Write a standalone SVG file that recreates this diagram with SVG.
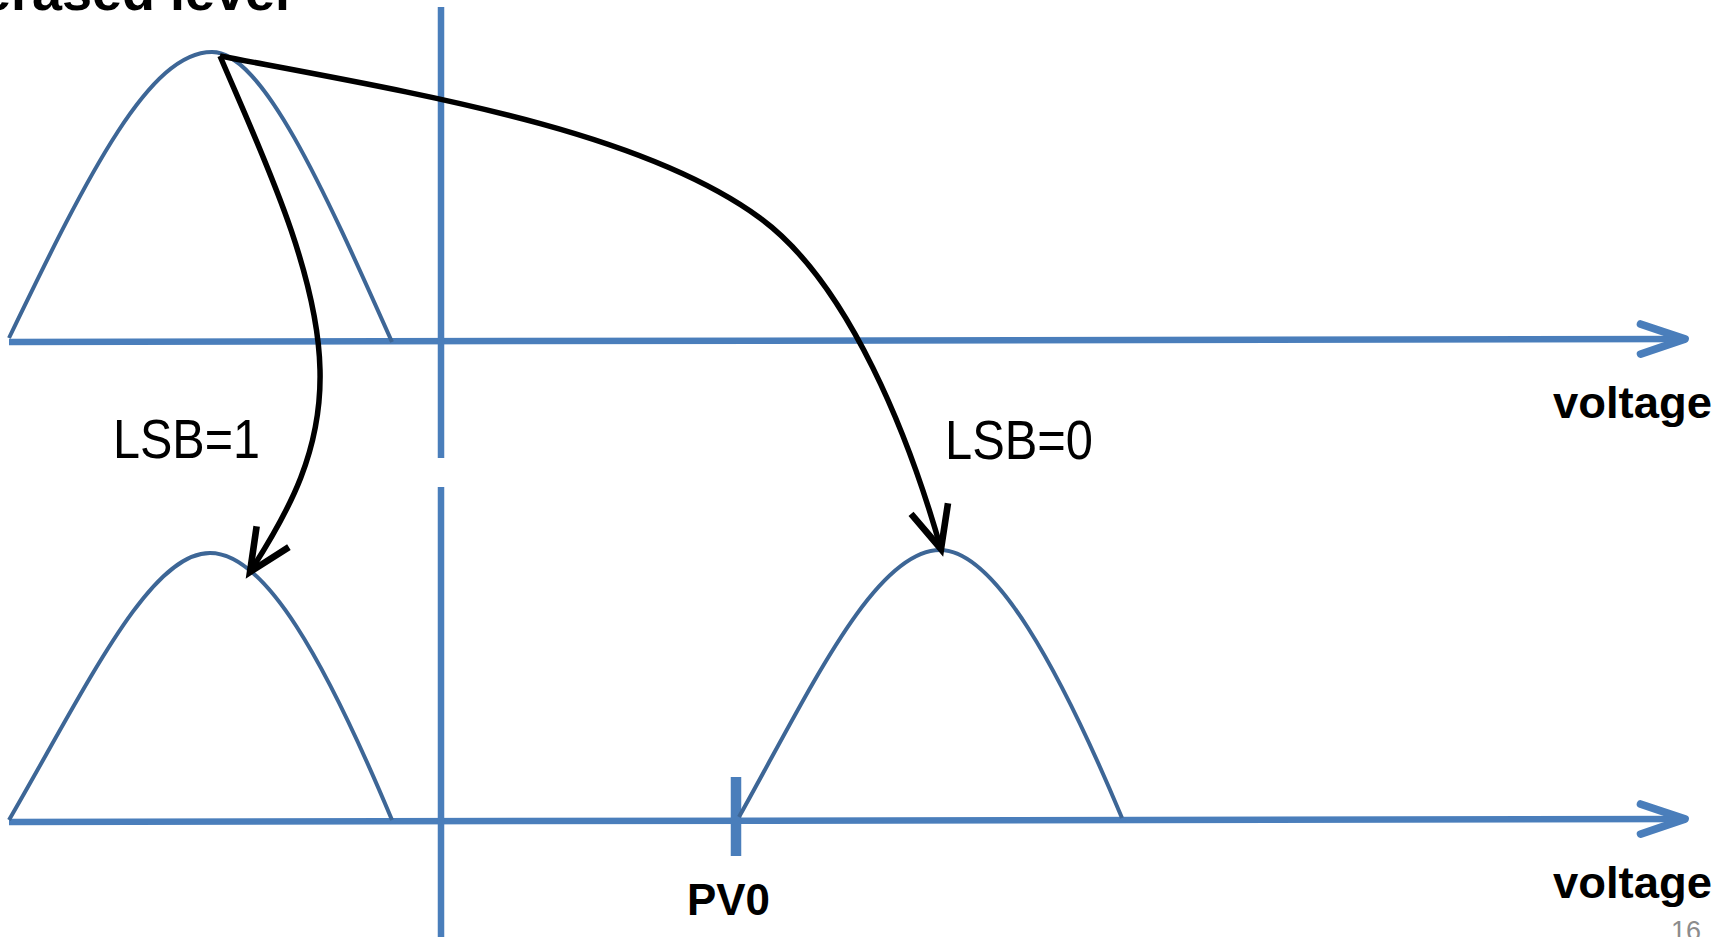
<svg xmlns="http://www.w3.org/2000/svg" width="1734" height="937" viewBox="0 0 1734 937">
<style>
.axis{fill:none;stroke:#4a7ebb;stroke-width:6.5}
.curve{fill:none;stroke:#3d6696;stroke-width:4}
.conn{fill:none;stroke:#000;stroke-width:5.5}
.lbl{font-family:"Liberation Sans",Arial,sans-serif;fill:#000}
.b{font-weight:bold}
</style>
<defs>
<marker id="axHead" markerUnits="userSpaceOnUse" markerWidth="60" markerHeight="60" viewBox="-45 -20 50 40" refX="0" refY="0" orient="auto" overflow="visible">
<path d="M-37,-12.5 L0,0 L-37,12.5" fill="none" stroke="#4a7ebb" stroke-width="6.5" stroke-linecap="round" stroke-linejoin="round"/>
</marker>
<marker id="blkHead" markerUnits="userSpaceOnUse" markerWidth="60" markerHeight="60" viewBox="-45 -20 50 40" refX="0" refY="0" orient="auto" overflow="visible">
<path d="M-35,-16 L0,0 L-35,16" fill="none" stroke="#000" stroke-width="5.5" stroke-linecap="butt" stroke-linejoin="miter"/>
</marker>
</defs>
<rect width="1734" height="937" fill="#fff"/>
<g id="axes">
<line class="axis" x1="9" y1="342" x2="1685" y2="339" marker-end="url(#axHead)"/>
<line class="axis" x1="9" y1="822" x2="1685" y2="819" marker-end="url(#axHead)"/>
<line class="axis" x1="441" y1="7" x2="441" y2="458"/>
<line class="axis" x1="441" y1="487" x2="441" y2="937"/>
<line x1="736" y1="777" x2="736" y2="856" stroke="#4a7ebb" stroke-width="10.5"/>
</g>
<g id="erased">
<path class="curve" d="M9,338 C90,170 150,52 212,52 C262,52 322,185 392,342"/>
<text class="lbl b" x="-19" y="10" font-size="54" textLength="309" lengthAdjust="spacingAndGlyphs">erased level</text>
</g>
<g id="lsb1">
<path class="curve" d="M9,820 C90,680 150,553 210,553 C265,553 325,660 392,820"/>
<text class="lbl" x="113" y="458" font-size="55" textLength="147" lengthAdjust="spacingAndGlyphs">LSB=1</text>
</g>
<g id="lsb0">
<path class="curve" d="M739,817 C810,690 875,550 940,550 C995,550 1060,670 1122,818"/>
<text class="lbl" x="945" y="459" font-size="55" textLength="148" lengthAdjust="spacingAndGlyphs">LSB=0</text>
</g>
<g id="labels">
<text class="lbl b" x="1553" y="418" font-size="45" textLength="159" lengthAdjust="spacingAndGlyphs">voltage</text>
<text class="lbl b" x="1553" y="898" font-size="45" textLength="159" lengthAdjust="spacingAndGlyphs">voltage</text>
<text class="lbl b" x="687" y="915" font-size="44" textLength="83" lengthAdjust="spacingAndGlyphs">PV0</text>
<text x="1671" y="940" font-family="Liberation Sans,Arial,sans-serif" font-size="27" fill="#8c8c8c" textLength="30" lengthAdjust="spacingAndGlyphs">16</text>
</g>
<g id="connectors">
<path class="conn" d="M220,56 C260,150 318,270 320,370 C322,450 290,510 250,572" marker-end="url(#blkHead)"/>
<path class="conn" d="M220,56 C420,94 640,130 760,218 C850,284 910,440 941,549" marker-end="url(#blkHead)"/>
</g>
</svg>
